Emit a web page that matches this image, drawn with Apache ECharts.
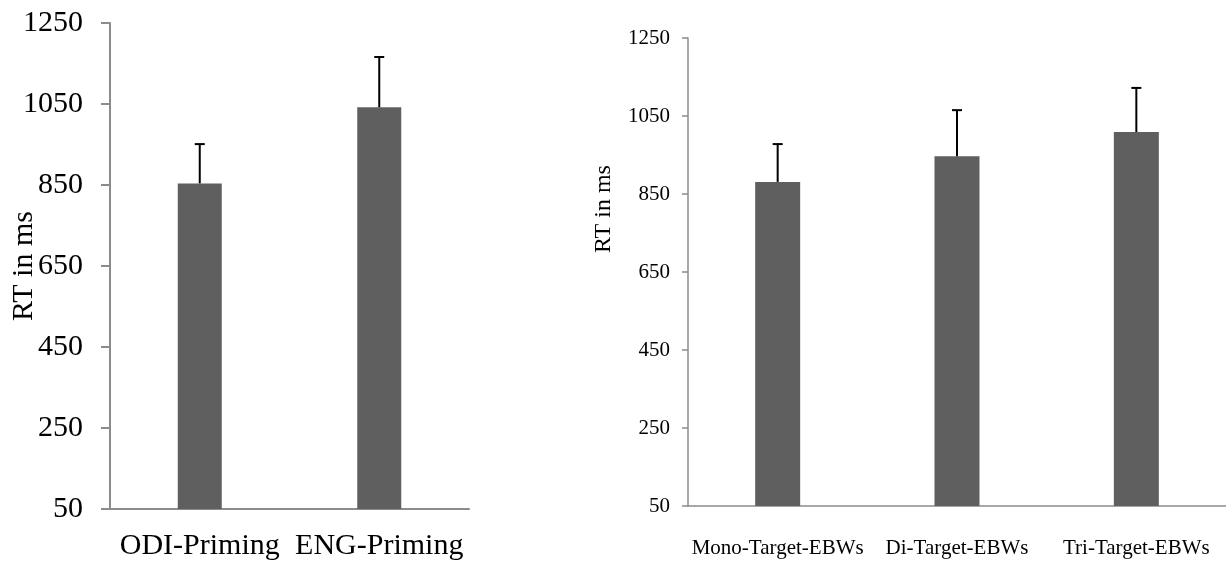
<!DOCTYPE html>
<html>
<head>
<meta charset="utf-8">
<script src="https://cdn.jsdelivr.net/npm/echarts@6/dist/echarts.min.js"></script>
<style>
html,body{margin:0;padding:0;background:#fff;}
#chart{width:1226px;height:566px;}
</style>
</head>
<body>
<div id="chart"></div>
<script>
// Left panel data
const leftCategories = ['ODI-Priming', 'ENG-Priming'];
const leftMeans = [854, 1042];
const leftErrors = [97, 124];

// Right panel data
const rightCategories = ['Mono-Target-EBWs', 'Di-Target-EBWs', 'Tri-Target-EBWs'];
const rightMeans = [881, 947, 1009];
const rightErrors = [97, 118, 113];

// Axis ticks
const yMin = 50;
const yMax = 1250;
const yStep = 200;
const yAxisTitle = 'RT in ms';

const FONT = '"Liberation Serif", "Times New Roman", serif';
const BAR = '#5f5f5f';
const AXIS = '#8c8c8c';

function errData(means, errs) {
  return means.map((m, i) => [i, m, m + errs[i]]);
}

function errorRender(capHalf) {
  return function (params, api) {
    const x = api.value(0);
    const lo = api.coord([x, api.value(1)]);
    const hi = api.coord([x, api.value(2)]);
    const style = { stroke: '#000', lineWidth: 2 };
    return {
      type: 'group',
      children: [
        { type: 'line', shape: { x1: lo[0], y1: lo[1], x2: hi[0], y2: hi[1] }, style: style },
        { type: 'line', shape: { x1: hi[0] - capHalf, y1: hi[1], x2: hi[0] + capHalf, y2: hi[1] }, style: style }
      ]
    };
  };
}

const plain = v => String(v);

const chart = echarts.init(document.getElementById('chart'), null, { renderer: 'canvas' });

const option = {
  backgroundColor: '#fff',
  animation: false,
  grid: [
    { left: 110, right: 757, top: 23, bottom: 57, containLabel: false, outerBoundsMode: 'none' },
    { left: 688, right: 0, top: 38, bottom: 60, containLabel: false, outerBoundsMode: 'none' }
  ],
  xAxis: [
    {
      type: 'category', gridIndex: 0, data: leftCategories,
      axisLine: { lineStyle: { color: AXIS, width: 2 } },
      axisTick: { show: false },
      axisLabel: { interval: 0, color: '#000', fontFamily: FONT, fontSize: 30, margin: 22 }
    },
    {
      type: 'category', gridIndex: 1, data: rightCategories,
      axisLine: { lineStyle: { color: AXIS, width: 1.5 } },
      axisTick: { show: false },
      axisLabel: { interval: 0, color: '#000', fontFamily: FONT, fontSize: 21, margin: 32 }
    }
  ],
  yAxis: [
    {
      type: 'value', gridIndex: 0, min: yMin, max: yMax, interval: yStep,
      axisLine: { show: true, lineStyle: { color: AXIS, width: 2 } },
      axisTick: { show: true, length: 9, lineStyle: { color: AXIS, width: 2 } },
      splitLine: { show: false },
      axisLabel: { color: '#000', fontFamily: FONT, fontSize: 30, margin: 27, formatter: plain },
      name: yAxisTitle, nameLocation: 'middle', nameGap: 71, nameMoveOverlap: false,
      nameTextStyle: { color: '#000', fontFamily: FONT, fontSize: 30 }
    },
    {
      type: 'value', gridIndex: 1, min: yMin, max: yMax, interval: yStep,
      axisLine: { show: true, lineStyle: { color: AXIS, width: 1.5 } },
      axisTick: { show: true, length: 6, lineStyle: { color: AXIS, width: 1.5 } },
      splitLine: { show: false },
      axisLabel: { color: '#000', fontFamily: FONT, fontSize: 21, margin: 18, formatter: plain }
    }
  ],
  graphic: [
    {
      type: 'text',
      x: 604, y: 209,
      rotation: Math.PI / 2,
      style: {
        text: yAxisTitle, fill: '#000', font: '24px ' + FONT,
        align: 'center', verticalAlign: 'middle'
      }
    }
  ],
  series: [
    {
      type: 'bar', xAxisIndex: 0, yAxisIndex: 0, data: leftMeans, barWidth: 44,
      itemStyle: { color: BAR }
    },
    {
      type: 'custom', xAxisIndex: 0, yAxisIndex: 0, data: errData(leftMeans, leftErrors),
      renderItem: errorRender(5), z: 5
    },
    {
      type: 'bar', xAxisIndex: 1, yAxisIndex: 1, data: rightMeans, barWidth: 45,
      itemStyle: { color: BAR }
    },
    {
      type: 'custom', xAxisIndex: 1, yAxisIndex: 1, data: errData(rightMeans, rightErrors),
      renderItem: errorRender(5), z: 5
    }
  ]
};
chart.setOption(option);
</script>
</body>
</html>
